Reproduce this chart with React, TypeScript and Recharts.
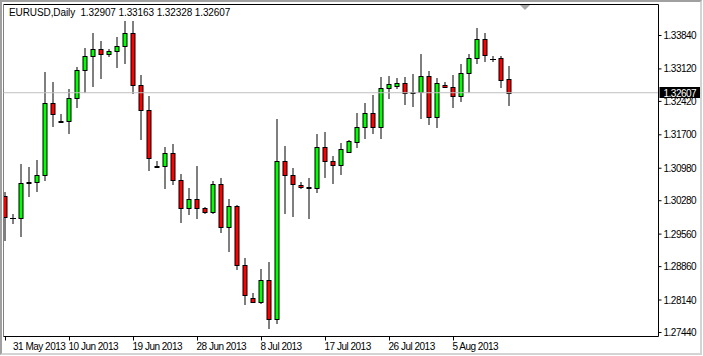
import { ComposedChart, Bar, XAxis, YAxis, ReferenceLine } from "recharts";

const FONT = "'Liberation Sans', Arial, sans-serif";

// daily bars, Sunday sessions included (MT4 style)
const dates = [
  "2013-05-31", "2013-06-02", "2013-06-03", "2013-06-04", "2013-06-05", "2013-06-06", "2013-06-07", "2013-06-09",
  "2013-06-10", "2013-06-11", "2013-06-12", "2013-06-13", "2013-06-14", "2013-06-16", "2013-06-17", "2013-06-18",
  "2013-06-19", "2013-06-20", "2013-06-21", "2013-06-23", "2013-06-24", "2013-06-25", "2013-06-26", "2013-06-27",
  "2013-06-28", "2013-06-30", "2013-07-01", "2013-07-02", "2013-07-03", "2013-07-04", "2013-07-05", "2013-07-07",
  "2013-07-08", "2013-07-09", "2013-07-10", "2013-07-11", "2013-07-12", "2013-07-14", "2013-07-15", "2013-07-16",
  "2013-07-17", "2013-07-18", "2013-07-19", "2013-07-21", "2013-07-22", "2013-07-23", "2013-07-24", "2013-07-25",
  "2013-07-26", "2013-07-28", "2013-07-29", "2013-07-30", "2013-07-31", "2013-08-01", "2013-08-02", "2013-08-04",
  "2013-08-05", "2013-08-06", "2013-08-07", "2013-08-08", "2013-08-09", "2013-08-11", "2013-08-12", "2013-08-13",
];

const openPrices = [
  1.30392, 1.29903, 1.29911, 1.3067, 1.30679, 1.30838, 1.3239, 1.32008,
  1.32008, 1.32497, 1.33101, 1.33403, 1.33553, 1.33446, 1.3351, 1.33603,
  1.33898, 1.32784, 1.32245, 1.31023, 1.31032, 1.31312, 1.3073, 1.30127,
  1.30321, 1.30127, 1.30041, 1.30644, 1.29709, 1.30161, 1.28899, 1.28187,
  1.28093, 1.28575, 1.27735, 1.31131, 1.30838, 1.30629, 1.30575, 1.30558,
  1.31448, 1.31146, 1.31054, 1.31325, 1.31541, 1.31864, 1.32174, 1.31864,
  1.32713, 1.32756, 1.32827, 1.32621, 1.32633, 1.32963, 1.32094, 1.32769,
  1.32726, 1.32532, 1.33036, 1.3336, 1.33769, 1.33344, 1.3336, 1.32907,
];

const highPrices = [
  1.30463, 1.29983, 1.3106, 1.31002, 1.31146, 1.33049, 1.32834, 1.32131,
  1.32676, 1.33157, 1.33566, 1.3389, 1.33711, 1.33545, 1.33803, 1.34142,
  1.34142, 1.32978, 1.32525, 1.31125, 1.31433, 1.31485, 1.30845, 1.30536,
  1.31017, 1.3013, 1.30694, 1.30752, 1.30299, 1.3017, 1.29028, 1.28287,
  1.28797, 1.28942, 1.3203, 1.31448, 1.30967, 1.30679, 1.30765, 1.31707,
  1.31756, 1.31239, 1.31519, 1.31577, 1.32153, 1.32381, 1.32547, 1.32928,
  1.32956, 1.32907, 1.32941, 1.33, 1.33431, 1.33071, 1.32907, 1.32821,
  1.32978, 1.33215, 1.33431, 1.33984, 1.33877, 1.33394, 1.33387, 1.33163,
];

const lowPrices = [
  1.29422, 1.29795, 1.29508, 1.30377, 1.30485, 1.30715, 1.31885, 1.31995,
  1.31735, 1.32295, 1.32618, 1.32741, 1.3292, 1.33394, 1.33157, 1.3323,
  1.32584, 1.31592, 1.30931, 1.3101, 1.30549, 1.30623, 1.29817, 1.29976,
  1.2989, 1.30011, 1.30011, 1.29601, 1.29192, 1.28791, 1.28037, 1.2808,
  1.28058, 1.27519, 1.27627, 1.29999, 1.29946, 1.30536, 1.29903, 1.30463,
  1.30786, 1.30644, 1.30845, 1.31325, 1.3142, 1.31614, 1.31735, 1.31627,
  1.32489, 1.32704, 1.32353, 1.32316, 1.32058, 1.31916, 1.31851, 1.32713,
  1.32295, 1.32424, 1.32618, 1.33243, 1.3328, 1.33286, 1.32726, 1.32328,
];

const closePrices = [
  1.29924, 1.29903, 1.30666, 1.3069, 1.30838, 1.3239, 1.32153, 1.32003,
  1.32497, 1.33101, 1.33403, 1.33553, 1.33446, 1.3351, 1.33603, 1.33898,
  1.32784, 1.32245, 1.31204, 1.31018, 1.31312, 1.3073, 1.30127, 1.30321,
  1.30127, 1.30041, 1.30644, 1.29709, 1.30161, 1.28899, 1.28259, 1.28093,
  1.28575, 1.27735, 1.31131, 1.30838, 1.30644, 1.30586, 1.30568, 1.31448,
  1.31131, 1.31054, 1.31398, 1.31556, 1.31879, 1.32174, 1.31864, 1.32713,
  1.32799, 1.32827, 1.32605, 1.32615, 1.32963, 1.32094, 1.32812, 1.32734,
  1.32532, 1.33036, 1.3336, 1.33769, 1.33424, 1.33344, 1.32885, 1.32607,
];

const xTickIndex = [0, 8, 16, 24, 32, 40, 48, 56];
const xTickLabels = [
  "31 May 2013", "10 Jun 2013", "19 Jun 2013", "28 Jun 2013",
  "8 Jul 2013", "17 Jul 2013", "26 Jul 2013", "5 Aug 2013",
];
const yTicks = [1.2744, 1.2814, 1.2886, 1.2956, 1.3028, 1.3098, 1.317, 1.3242, 1.3312, 1.3384];
const yDomain = [1.27354, 1.34508];

const symbol = "EURUSD,Daily";
const last = dates.length - 1;
const header = `${symbol}  ${[openPrices[last], highPrices[last], lowPrices[last], closePrices[last]]
  .map((v) => v.toFixed(5))
  .join(" ")}`;

const data = dates.map((date, i) => ({
  i,
  date,
  open: openPrices[i],
  high: highPrices[i],
  low: lowPrices[i],
  close: closePrices[i],
  range: [lowPrices[i], highPrices[i]],
}));

const Candle = (props: any) => {
  const { x, y, width, height, payload } = props;
  if (x == null || y == null) return null;
  const { open, close, high, low } = payload;
  const top = Math.min(y, y + height);
  const bottom = Math.max(y, y + height);
  const span = high - low || 1e-9;
  const py = (v: number) => top + ((high - v) / span) * (bottom - top);
  const cx = x + width / 2;
  const bodyTop = Math.round(py(Math.max(open, close))) + 0.5;
  const bodyBot = Math.round(py(Math.min(open, close))) + 0.5;
  const wick = (
    <line x1={cx} x2={cx} y1={Math.floor(top)} y2={Math.ceil(bottom)} stroke="#000" strokeWidth={1} />
  );
  if (open === close) {
    return (
      <g>
        {wick}
        <line x1={cx - 3} x2={cx + 3} y1={bodyTop} y2={bodyTop} stroke="#000" strokeWidth={1} />
      </g>
    );
  }
  return (
    <g>
      {wick}
      <rect
        x={cx - 2}
        y={bodyTop}
        width={4}
        height={Math.max(1, bodyBot - bodyTop)}
        fill={close > open ? "#00ff00" : "#ff0000"}
        stroke="#000"
        strokeWidth={1}
      />
    </g>
  );
};

const DateTick = (props: any) => {
  const { x, y, payload } = props;
  const label = xTickLabels[xTickIndex.indexOf(payload.value)];
  return (
    <text
      x={Math.max(x - 1, 13)}
      y={y}
      dy="0.71em"
      textAnchor="start"
      fill="#000"
      fontSize={10}
      letterSpacing={-0.5}
      fontFamily={FONT}
    >
      {label}
    </text>
  );
};

const PriceTick = (props: any) => {
  const { x, y, payload } = props;
  return (
    <text x={x} y={y} dy="0.355em" textAnchor="start" fill="#000" fontSize={10} letterSpacing={-0.5} fontFamily={FONT}>
      {payload.value.toFixed(5)}
    </text>
  );
};

const PriceTag = (props: any) => {
  const { viewBox } = props;
  if (!viewBox) return null;
  const right = viewBox.x + viewBox.width;
  const yy = Math.round(viewBox.y);
  return (
    <g>
      <rect x={right + 1} y={yy - 6} width={41} height={11} fill="#000" />
      <text x={right + 5} y={yy + 3.5} fill="#fff" fontSize={10} letterSpacing={-0.5} fontFamily={FONT}>
        {closePrices[last].toFixed(5)}
      </text>
    </g>
  );
};

export default function App() {
  return (
    <div style={{ position: "absolute", left: 0, top: 0, width: 703, height: 356, background: "#fff" }}>
      <ComposedChart width={703} height={356} data={data} margin={{ top: 4.5, right: 0, bottom: 0, left: 3.5 }}>
        <XAxis
          dataKey="i"
          type="number"
          domain={[-0.25, 81.625]}
          allowDataOverflow
          ticks={xTickIndex}
          interval={0}
          height={19.5}
          tickSize={4}
          tickMargin={2}
          axisLine={{ stroke: "#000" }}
          tickLine={{ stroke: "#000" }}
          tick={<DateTick />}
        />
        <YAxis
          orientation="right"
          type="number"
          domain={yDomain}
          allowDataOverflow
          ticks={yTicks}
          interval={0}
          width={44.5}
          tickSize={3}
          tickMargin={2}
          axisLine={{ stroke: "#000" }}
          tickLine={{ stroke: "#000" }}
          tick={<PriceTick />}
        />
        <ReferenceLine y={yDomain[1]} stroke="#000" />
        <ReferenceLine x={-0.25} stroke="#808080" />
        <ReferenceLine y={closePrices[last]} stroke="#c0c0c0" label={<PriceTag />} />
        <Bar dataKey="range" barSize={5} shape={<Candle />} isAnimationActive={false} />
      </ComposedChart>
      <div
        style={{
          position: "absolute",
          left: 9,
          top: 7,
          fontFamily: FONT,
          fontSize: 10,
          letterSpacing: "-0.1px",
          lineHeight: "11px",
          color: "#000",
          whiteSpace: "pre",
        }}
      >
        {header}
      </div>
      <div
        style={{
          position: "absolute",
          left: 520,
          top: 5,
          width: 0,
          height: 0,
          borderLeft: "5px solid transparent",
          borderRight: "5px solid transparent",
          borderTop: "5px solid #a8a8a8",
        }}
      />
      <div
        style={{
          position: "absolute",
          left: 0,
          top: 0,
          width: 702,
          height: 355,
          boxSizing: "border-box",
          borderTop: "2px solid #a0a0a0",
          borderLeft: "2px solid #a0a0a0",
          borderRight: "2px solid #d4d4d4",
          borderBottom: "2px solid #d4d4d4",
          pointerEvents: "none",
        }}
      />
    </div>
  );
}
